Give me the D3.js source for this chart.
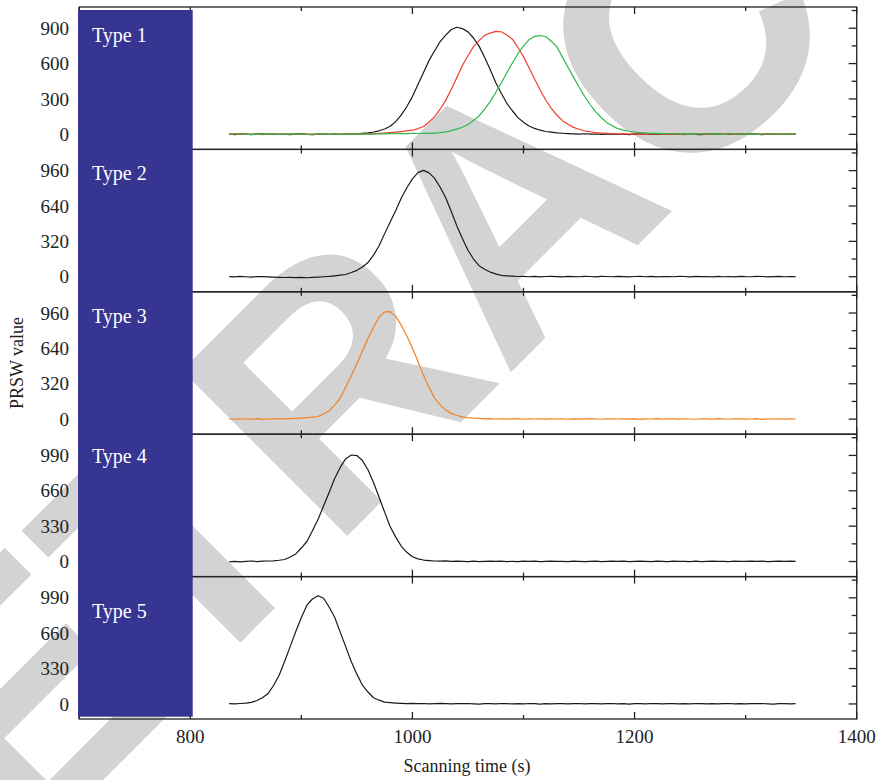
<!DOCTYPE html>
<html><head><meta charset="utf-8">
<script src="https://cdn.jsdelivr.net/npm/d3@7"></script>
<style>body{margin:0;background:#fff} svg{display:block}</style>
</head><body><svg id="c" width="879" height="780"></svg>
<script>
// ---------- DATA ----------
const time = [
835,840,845,850,855,860,865,870,875,880,
885,890,895,900,905,910,915,920,925,930,
935,940,945,950,955,960,965,970,975,980,
985,990,995,1000,1005,1010,1015,1020,1025,1030,
1035,1040,1045,1050,1055,1060,1065,1070,1075,1080,
1085,1090,1095,1100,1105,1110,1115,1120,1125,1130,
1135,1140,1145,1150,1155,1160,1165,1170,1175,1180,
1185,1190,1195,1200,1205,1210,1215,1220,1225,1230,
1235,1240,1245,1250,1255,1260,1265,1270,1275,1280,
1285,1290,1295,1300,1305,1310,1315,1320,1325,1330,
1335,1340,1345];

const type1Black = [
3,-2,4,1,-3,2,5,-1,3,0,
2,-3,1,4,0,-2,3,1,-1,2,
0,3,1,5,8,12,20,30,45,68,
108,165,236,320,422,524,627,709,787,842,
889,908,897,869,817,748,654,550,440,349,
263,200,142,103,71,50,35,24,18,12,
9,6,4,2,5,1,3,-1,2,4,
0,3,-2,2,5,1,-1,3,2,0,
4,-1,2,3,0,-2,3,1,4,0,
2,-1,3,0,4,1,-2,3,1,2,
0,3,1];

const type1Red = [
2,4,-1,3,0,5,-2,3,1,2,
-1,3,2,0,4,-2,1,3,0,2,
3,1,4,2,5,3,6,8,11,15,
19,23,29,35,49,66,105,150,213,288,
382,481,584,666,744,795,839,859,873,870,
843,807,737,659,565,470,376,291,220,164,
116,86,59,43,30,22,15,11,8,5,
3,6,1,4,2,-1,3,5,0,2,
4,1,-2,3,2,5,0,3,-1,2,
3,0,4,2,-1,3,1,5,2,0,
2,4,1];

const type1Green = [
1,3,5,0,2,-1,4,2,3,0,
2,4,1,3,-1,2,5,1,3,2,
0,3,2,4,1,3,2,5,4,6,
5,7,6,8,7,8,8,11,15,21,
32,44,60,84,117,156,214,277,355,435,
522,605,684,748,803,831,838,830,790,743,
657,571,485,401,323,253,191,143,99,72,
48,36,26,20,14,12,9,8,6,5,
3,6,2,4,1,5,3,2,4,0,
3,5,1,2,4,0,3,2,5,1,
3,1,4];

const type2Black = [
1,-2,3,0,-3,2,1,-2,-4,-6,
-7,-5,-8,-6,-9,-5,-3,0,3,8,
14,20,38,58,88,128,195,280,390,496,
600,712,805,885,942,962,940,890,810,715,
590,460,345,240,160,100,68,42,26,12,
8,5,2,4,0,3,-1,2,4,1,
-2,3,1,0,4,2,-1,3,2,0,
3,1,-2,2,4,0,3,-1,2,1,
0,4,2,-1,3,1,2,-2,3,0,
2,-1,4,1,0,3,2,-2,1,3,
0,2,1];

const type3Orange = [
2,-1,3,1,0,4,-2,1,3,2,
3,5,7,10,14,18,24,47,75,129,
189,290,392,501,614,731,832,924,970,973,
930,850,753,644,522,396,287,188,129,82,
52,33,21,14,9,6,3,5,1,3,
0,2,4,-1,3,1,2,0,3,1,
2,-1,3,0,2,4,1,-1,2,3,
1,3,0,2,-2,3,1,4,0,2,
3,0,2,1,-1,3,2,0,4,1,
-1,2,3,0,1,4,-2,2,1,3,
0,2,1];

const type4Black = [
-2,1,-3,2,5,0,3,5,7,12,
19,42,71,126,187,288,393,518,644,774,
878,960,994,989,942,856,737,599,461,325,
228,142,86,45,25,14,9,5,3,6,
1,4,2,-1,3,0,2,4,1,3,
0,2,-1,3,1,4,0,2,3,1,
2,0,3,1,-1,2,4,0,2,3,
1,3,0,2,4,1,-1,3,2,0,
3,1,2,-1,4,0,2,3,1,2,
0,3,1,2,4,1,3,0,2,4,
1,3,2];

const type5Black = [
2,1,4,7,14,32,57,97,172,267,
398,537,675,807,921,979,1010,986,904,809,
670,532,394,278,175,111,58,35,17,12,
8,5,3,6,2,4,1,3,5,2,
0,3,2,4,1,-1,3,2,0,4,
2,1,3,0,4,2,-1,3,1,2,
3,0,2,4,1,3,2,0,2,4,
1,3,-1,2,3,0,4,2,1,3,
2,0,3,1,4,2,0,3,1,2,
4,1,2,0,3,2,4,1,-1,2,
2,0,3];

const panelNames = ["Type 1", "Type 2", "Type 3", "Type 4", "Type 5"];
const yTickLabels = [[0,300,600,900],[0,320,640,960],[0,320,640,960],[0,330,660,990],[0,330,660,990]];
const xTickLabels = [800,1000,1200,1400];
const xMinorTicks = [900,1100,1300];
const xTitle = "Scanning time (s)";
const yTitle = "PRSW value";
const watermark = "RETRACTED";

// ---------- LAYOUT ----------
const svg = d3.select("#c");
const W = 879, H = 780;
const left = 79.2, right = 856.7, top0 = 7, panelH = 142.4;
const x = d3.scaleLinear().domain([700,1400]).range([left,right]);
const serif = "'Liberation Serif','DejaVu Serif',serif";
const colors = {black:"#1a1a1a", red:"#f0412a", green:"#2db84a", orange:"#f5821f"};

const panels = [
  {series:[{v:type1Black,c:colors.black},{v:type1Red,c:colors.red},{v:type1Green,c:colors.green}]},
  {series:[{v:type2Black,c:colors.black}]},
  {series:[{v:type3Orange,c:colors.orange}]},
  {series:[{v:type4Black,c:colors.black}]},
  {series:[{v:type5Black,c:colors.black}]}
];

svg.append("rect").attr("width",W).attr("height",H).attr("fill","#fff");

// watermark (background)
svg.append("g").attr("transform","translate(505,205) rotate(-45)")
  .append("text").text(watermark)
  .attr("text-anchor","middle").attr("dy","0.36em")
  .attr("font-family","'Liberation Sans',Arial,sans-serif").attr("font-weight","bold")
  .attr("font-size",340).attr("fill","#d3d3d3");

const labelBaselines = [42, 180, 323, 463, 618];

panels.forEach((p,i)=>{
  const yTop = top0 + i*panelH, yBot = yTop + panelH;
  const M = yTickLabels[i][3];
  const y = d3.scaleLinear().domain([-0.142*M, 1.2*M]).range([yBot, yTop]);
  const g = svg.append("g");
  const line = d3.line().x((d,j)=>x(time[j])).y(d=>y(d));
  p.series.forEach(s=>{
    g.append("path").datum(s.v).attr("d",line).attr("fill","none")
      .attr("stroke",s.c).attr("stroke-width",1.2).attr("stroke-linejoin","round");
  });
  g.append("rect").attr("x",left).attr("y",yTop).attr("width",right-left).attr("height",panelH)
    .attr("fill","none").attr("stroke","#222").attr("stroke-width",1.3);
  const major = xTickLabels.concat([700]);
  major.forEach(v=>{
    g.append("line").attr("x1",x(v)).attr("x2",x(v)).attr("y1",yBot).attr("y2",yBot-7).attr("stroke","#222").attr("stroke-width",1.3);
    g.append("line").attr("x1",x(v)).attr("x2",x(v)).attr("y1",yTop).attr("y2",yTop+7).attr("stroke","#222").attr("stroke-width",1.3);
  });
  xMinorTicks.forEach(v=>{
    g.append("line").attr("x1",x(v)).attr("x2",x(v)).attr("y1",yBot).attr("y2",yBot-4).attr("stroke","#222").attr("stroke-width",1.3);
    g.append("line").attr("x1",x(v)).attr("x2",x(v)).attr("y1",yTop).attr("y2",yTop+4).attr("stroke","#222").attr("stroke-width",1.3);
  });
  const step = yTickLabels[i][1];
  const yt = d3.range(0, 1.2*M, step/2);
  yt.forEach((v,k)=>{
    const len = (k%2===0) ? 8 : 5;
    g.append("line").attr("x1",right).attr("x2",right-len).attr("y1",y(v)).attr("y2",y(v)).attr("stroke","#222").attr("stroke-width",1.3);
  });
  yTickLabels[i].forEach(v=>{
    svg.append("text").attr("x",69).attr("y",y(v)).attr("dy","0.35em").attr("text-anchor","end")
      .attr("font-family",serif).attr("font-size",19).attr("fill","#222").text(v);
  });
});

svg.append("rect").attr("x",78).attr("y",10).attr("width",114.7).attr("height",706.7).attr("fill","#363591");
panelNames.forEach((n,i)=>{
  svg.append("text").attr("x",92).attr("y",labelBaselines[i]).attr("font-family",serif)
    .attr("font-size",20).attr("fill","#fff").text(n);
});

xTickLabels.forEach(v=>{
  svg.append("text").attr("x",x(v)).attr("y",743).attr("text-anchor","middle")
    .attr("font-family",serif).attr("font-size",19).attr("fill","#222").text(v);
});
svg.append("text").attr("x",467).attr("y",772).attr("text-anchor","middle")
  .attr("font-family",serif).attr("font-size",18).attr("fill","#222").text(xTitle);
svg.append("text").attr("transform","translate(23,363) rotate(-90)").attr("text-anchor","middle")
  .attr("font-family",serif).attr("font-size",18).attr("fill","#222").text(yTitle);
</script>
</body></html>
